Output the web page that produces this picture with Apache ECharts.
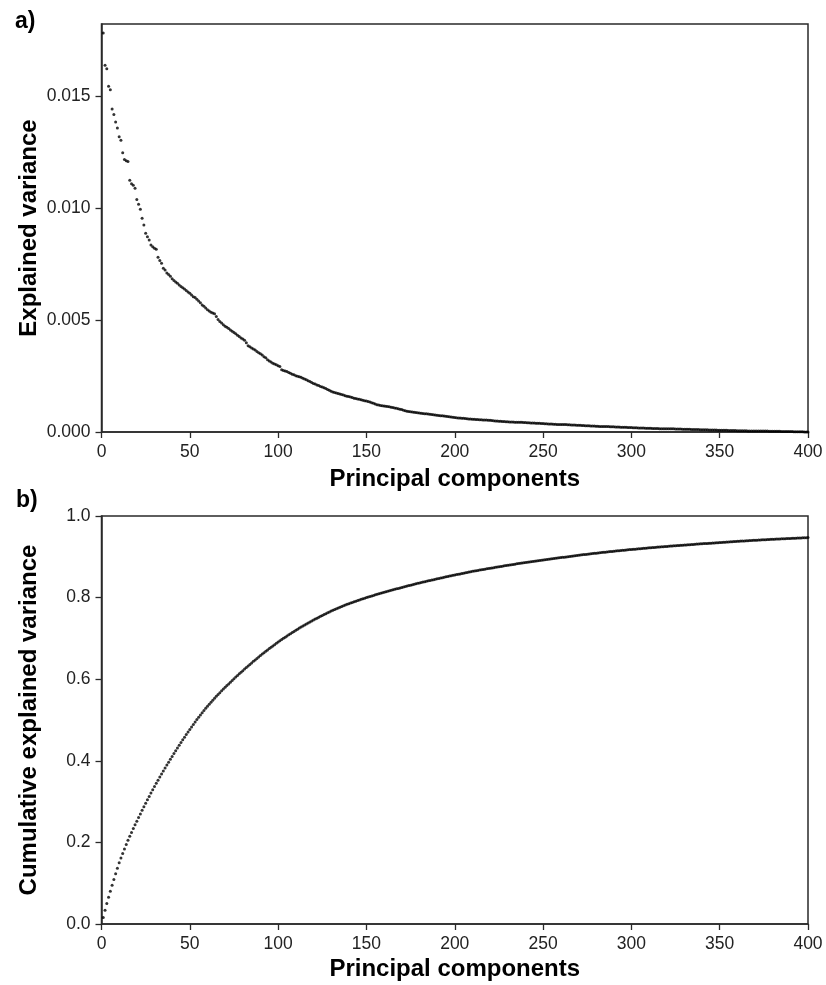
<!DOCTYPE html>
<html>
<head>
<meta charset="utf-8">
<script src="https://cdn.jsdelivr.net/npm/echarts@6/dist/echarts.min.js"></script>
<style>html,body{margin:0;padding:0;background:#fff}#c{width:826px;height:985px}</style>
</head>
<body>
<div id="c"></div>
<script>
// Explained variance per principal component (1..400), read from panel a)
const explainedVariance = [
0.01781,0.01637,0.01621,0.01543,0.01527,0.01442,0.01417,0.01384,0.01357,0.01318,
0.01302,0.01246,0.01216,0.01211,0.01207,0.01124,0.01108,0.01101,0.01088,0.01038,
0.01016,0.00994,0.00954,0.00924,0.00887,0.00872,0.00857,0.00835,0.00827,0.00820,
0.00816,0.00780,0.00765,0.00753,0.00731,0.00723,0.00710,0.00703,0.00695,0.00684,
0.00676,0.00670,0.00664,0.00656,0.00649,0.00644,0.00638,0.00631,0.00625,0.00619,
0.00612,0.00604,0.00600,0.00592,0.00585,0.00577,0.00567,0.00561,0.00553,0.00546,
0.00540,0.00535,0.00531,0.00528,0.00516,0.00502,0.00493,0.00486,0.00479,0.00472,
0.00467,0.00462,0.00455,0.00450,0.00444,0.00438,0.00432,0.00426,0.00420,0.00415,
0.00409,0.00398,0.00385,0.00380,0.00375,0.00370,0.00366,0.00359,0.00354,0.00349,
0.00344,0.00336,0.00331,0.00323,0.00317,0.00312,0.00307,0.00304,0.00300,0.00296,
0.00292,0.00278,0.00275,0.00272,0.00270,0.00266,0.00262,0.00258,0.00255,0.00251,
0.00249,0.00247,0.00244,0.00240,0.00236,0.00233,0.00229,0.00225,0.00221,0.00217,
0.00214,0.00210,0.00207,0.00203,0.00201,0.00198,0.00194,0.00190,0.00186,0.00182,
0.00178,0.00176,0.00174,0.00172,0.00170,0.00167,0.00165,0.00162,0.00160,0.00158,
0.00156,0.00154,0.00151,0.00149,0.00147,0.00146,0.00144,0.00142,0.00140,0.00138,
0.00136,0.00134,0.00131,0.00128,0.00125,0.00122,0.00120,0.00118,0.00117,0.00116,
0.00115,0.00114,0.00113,0.00111,0.00109,0.00107,0.00106,0.00104,0.00102,0.00100,
0.00097,0.00095,0.00093,0.00091,0.00090,0.00089,0.00088,0.00087,0.00086,0.00085,
0.00084,0.00083,0.00082,0.00081,0.00080,0.00079,0.00078,0.00077,0.00076,0.00075,
0.00074,0.00073,0.00072,0.00071,0.00070,0.00069,0.00068,0.00067,0.00066,0.00065,
0.00064,0.00063,0.00062,0.00061,0.00061,0.00060,0.00059,0.00058,0.00058,0.00057,
0.00057,0.00056,0.00056,0.00055,0.00055,0.00054,0.00054,0.00054,0.00053,0.00052,
0.00051,0.00050,0.00049,0.00049,0.00048,0.00048,0.00047,0.00047,0.00046,0.00046,
0.00045,0.00045,0.00045,0.00044,0.00044,0.00043,0.00043,0.00043,0.00042,0.00042,
0.00041,0.00041,0.00040,0.00040,0.00040,0.00039,0.00039,0.00039,0.00038,0.00038,
0.00037,0.00037,0.00036,0.00036,0.00036,0.00035,0.00035,0.00034,0.00034,0.00034,
0.00033,0.00033,0.00033,0.00032,0.00032,0.00031,0.00031,0.00031,0.00030,0.00030,
0.00030,0.00029,0.00029,0.00028,0.00028,0.00028,0.00027,0.00027,0.00027,0.00026,
0.00026,0.00025,0.00025,0.00025,0.00024,0.00024,0.00024,0.00023,0.00023,0.00023,
0.00022,0.00022,0.00022,0.00021,0.00021,0.00021,0.00021,0.00020,0.00020,0.00020,
0.00019,0.00019,0.00019,0.00018,0.00018,0.00018,0.00018,0.00017,0.00017,0.00017,
0.00017,0.00016,0.00016,0.00016,0.00016,0.00015,0.00015,0.00015,0.00015,0.00014,
0.00014,0.00014,0.00014,0.00014,0.00013,0.00013,0.00013,0.00013,0.00012,0.00012,
0.00012,0.00012,0.00012,0.00011,0.00011,0.00011,0.00011,0.00011,0.00010,0.00010,
0.00010,0.00010,0.00010,0.00009,0.00009,0.00009,0.00009,0.00009,0.00008,0.00008,
0.00008,0.00008,0.00008,0.00008,0.00007,0.00007,0.00007,0.00007,0.00007,0.00006,
0.00006,0.00006,0.00006,0.00006,0.00006,0.00005,0.00005,0.00005,0.00005,0.00005,
0.00005,0.00004,0.00004,0.00004,0.00004,0.00004,0.00004,0.00003,0.00003,0.00003,
0.00003,0.00003,0.00003,0.00003,0.00002,0.00002,0.00002,0.00002,0.00002,0.00002,
0.00002,0.00001,0.00001,0.00001,0.00001,0.00001,0.00001,0.00000,0.00000,0.00000
];

// Cumulative explained variance per principal component (1..400), read from panel b)
const cumulativeVariance = [
0.0160,0.0335,0.0500,0.0655,0.0800,0.0948,0.1093,0.1234,0.1369,0.1500,
0.1617,0.1730,0.1840,0.1947,0.2050,0.2148,0.2244,0.2338,0.2430,0.2520,
0.2610,0.2699,0.2787,0.2874,0.2960,0.3044,0.3127,0.3209,0.3290,0.3370,
0.3448,0.3525,0.3601,0.3676,0.3750,0.3823,0.3895,0.3967,0.4038,0.4108,
0.4177,0.4246,0.4314,0.4382,0.4449,0.4514,0.4579,0.4643,0.4706,0.4769,
0.4830,0.4891,0.4951,0.5010,0.5069,0.5125,0.5180,0.5234,0.5287,0.5339,
0.5389,0.5438,0.5486,0.5533,0.5580,0.5625,0.5670,0.5714,0.5757,0.5800,
0.5843,0.5885,0.5927,0.5969,0.6010,0.6051,0.6091,0.6131,0.6171,0.6210,
0.6249,0.6287,0.6325,0.6363,0.6400,0.6437,0.6473,0.6509,0.6545,0.6580,
0.6615,0.6649,0.6683,0.6717,0.6750,0.6783,0.6815,0.6847,0.6879,0.6910,
0.6941,0.6971,0.7001,0.7030,0.7059,0.7088,0.7116,0.7144,0.7172,0.7200,
0.7227,0.7253,0.7279,0.7304,0.7329,0.7354,0.7378,0.7402,0.7426,0.7450,
0.7473,0.7496,0.7519,0.7541,0.7563,0.7585,0.7607,0.7628,0.7649,0.7670,
0.7690,0.7709,0.7728,0.7746,0.7764,0.7782,0.7800,0.7817,0.7834,0.7850,
0.7866,0.7882,0.7898,0.7913,0.7928,0.7943,0.7958,0.7972,0.7986,0.8000,
0.8014,0.8028,0.8041,0.8054,0.8067,0.8080,0.8093,0.8106,0.8118,0.8130,
0.8142,0.8154,0.8166,0.8178,0.8190,0.8202,0.8214,0.8226,0.8238,0.8250,
0.8261,0.8272,0.8283,0.8294,0.8305,0.8316,0.8327,0.8338,0.8349,0.8360,
0.8370,0.8380,0.8390,0.8400,0.8410,0.8420,0.8430,0.8440,0.8450,0.8460,
0.8470,0.8479,0.8489,0.8498,0.8508,0.8517,0.8527,0.8536,0.8546,0.8555,
0.8564,0.8573,0.8581,0.8590,0.8599,0.8608,0.8617,0.8625,0.8634,0.8643,
0.8651,0.8659,0.8666,0.8674,0.8682,0.8689,0.8697,0.8705,0.8712,0.8720,
0.8727,0.8734,0.8742,0.8749,0.8756,0.8764,0.8771,0.8778,0.8786,0.8793,
0.8800,0.8806,0.8813,0.8820,0.8827,0.8833,0.8840,0.8847,0.8853,0.8860,
0.8866,0.8873,0.8879,0.8885,0.8892,0.8898,0.8904,0.8910,0.8917,0.8923,
0.8929,0.8934,0.8940,0.8946,0.8952,0.8957,0.8963,0.8969,0.8974,0.8980,
0.8986,0.8992,0.8997,0.9003,0.9009,0.9015,0.9021,0.9026,0.9032,0.9038,
0.9043,0.9048,0.9054,0.9059,0.9064,0.9069,0.9074,0.9080,0.9085,0.9090,
0.9095,0.9099,0.9104,0.9109,0.9114,0.9118,0.9123,0.9128,0.9132,0.9137,
0.9141,0.9146,0.9150,0.9154,0.9159,0.9163,0.9167,0.9171,0.9176,0.9180,
0.9184,0.9188,0.9192,0.9196,0.9200,0.9204,0.9208,0.9212,0.9216,0.9220,
0.9224,0.9227,0.9231,0.9234,0.9238,0.9241,0.9245,0.9248,0.9252,0.9255,
0.9258,0.9262,0.9265,0.9268,0.9272,0.9275,0.9278,0.9281,0.9285,0.9288,
0.9291,0.9294,0.9298,0.9301,0.9304,0.9307,0.9311,0.9314,0.9317,0.9320,
0.9323,0.9326,0.9329,0.9332,0.9335,0.9338,0.9341,0.9344,0.9347,0.9350,
0.9353,0.9356,0.9359,0.9362,0.9365,0.9368,0.9371,0.9374,0.9377,0.9380,
0.9383,0.9385,0.9388,0.9390,0.9393,0.9395,0.9398,0.9400,0.9403,0.9405,
0.9408,0.9410,0.9413,0.9415,0.9418,0.9420,0.9423,0.9425,0.9428,0.9430,
0.9432,0.9434,0.9436,0.9438,0.9440,0.9442,0.9444,0.9446,0.9448,0.9450,
0.9452,0.9454,0.9456,0.9458,0.9460,0.9462,0.9464,0.9466,0.9468,0.9470
];

const xTicks = [0, 50, 100, 150, 200, 250, 300, 350, 400];
const yTicksA = [0, 0.005, 0.010, 0.015];
const yTicksB = [0, 0.2, 0.4, 0.6, 0.8, 1.0];
const panelLabels = ['a)', 'b)'];
const xTitle = 'Principal components';
const yTitleA = 'Explained variance';
const yTitleB = 'Cumulative explained variance';

const components = explainedVariance.map((_, i) => i + 1);
const seriesA = components.map((c, i) => [c, explainedVariance[i]]);
const seriesB = components.map((c, i) => [c, cumulativeVariance[i]]);

const FONT = '"Liberation Sans", Arial, Helvetica, sans-serif';
const AX = '#2a2a2a';

function xAxisCfg(gridIndex, gap) {
  return {
    type: 'value', gridIndex, min: xTicks[0], max: xTicks[xTicks.length - 1], interval: 50,
    name: xTitle, nameLocation: 'middle', nameGap: gap, nameMoveOverlap: false,
    nameTextStyle: { fontFamily: FONT, fontSize: 24, fontWeight: 'bold', color: '#000' },
    axisLine: { onZero: false, lineStyle: { color: AX, width: 1.5 } },
    axisTick: { length: 6, lineStyle: { color: AX, width: 1.3 } },
    axisLabel: { fontFamily: FONT, fontSize: 17.5, color: '#222', margin: 11 },
    splitLine: { show: false }
  };
}

const chart = echarts.init(document.getElementById('c'), null, { renderer: 'canvas' });
chart.setOption({
  animation: false,
  backgroundColor: '#fff',
  title: [
    { text: panelLabels[0], left: 10, top: 5, textStyle: { fontFamily: FONT, fontSize: 23, fontWeight: 'bold', color: '#000' } },
    { text: panelLabels[1], left: 11, top: 484, textStyle: { fontFamily: FONT, fontSize: 23, fontWeight: 'bold', color: '#000' } }
  ],
  grid: [
    { left: 101.5, right: 18, top: 24, height: 408, show: true, borderColor: AX, borderWidth: 1.5, backgroundColor: 'transparent' },
    { left: 101.5, right: 18, top: 516, height: 408, show: true, borderColor: AX, borderWidth: 1.5, backgroundColor: 'transparent' }
  ],
  xAxis: [xAxisCfg(0, 35), xAxisCfg(1, 33)],
  yAxis: [
    {
      type: 'value', gridIndex: 0, min: 0, max: 0.01821,
      name: yTitleA, nameLocation: 'middle', nameGap: 60, nameMoveOverlap: false,
      nameTextStyle: { fontFamily: FONT, fontSize: 24, fontWeight: 'bold', color: '#000' },
      axisLine: { show: true, lineStyle: { color: AX, width: 1.5 } },
      axisTick: { show: true, length: 6, customValues: yTicksA, lineStyle: { color: AX, width: 1.3 } },
      axisLabel: { fontFamily: FONT, fontSize: 17.5, color: '#222', margin: 11, customValues: yTicksA,
                   formatter: v => v.toFixed(3) },
      splitLine: { show: false }
    },
    {
      type: 'value', gridIndex: 1, min: 0, max: 1, interval: 0.2,
      name: yTitleB, nameLocation: 'middle', nameGap: 60, nameMoveOverlap: false,
      nameTextStyle: { fontFamily: FONT, fontSize: 24, fontWeight: 'bold', color: '#000' },
      axisLine: { show: true, lineStyle: { color: AX, width: 1.5 } },
      axisTick: { show: true, length: 6, customValues: yTicksB, lineStyle: { color: AX, width: 1.3 } },
      axisLabel: { fontFamily: FONT, fontSize: 17.5, color: '#222', margin: 11, customValues: yTicksB,
                   formatter: v => v.toFixed(1) },
      splitLine: { show: false }
    }
  ],
  series: [
    { type: 'scatter', xAxisIndex: 0, yAxisIndex: 0, data: seriesA, symbol: 'circle', symbolSize: 3,
      itemStyle: { color: '#000' }, silent: true },
    { type: 'scatter', xAxisIndex: 1, yAxisIndex: 1, data: seriesB, symbol: 'circle', symbolSize: 3,
      itemStyle: { color: '#000' }, silent: true }
  ]
});
</script>
</body>
</html>
